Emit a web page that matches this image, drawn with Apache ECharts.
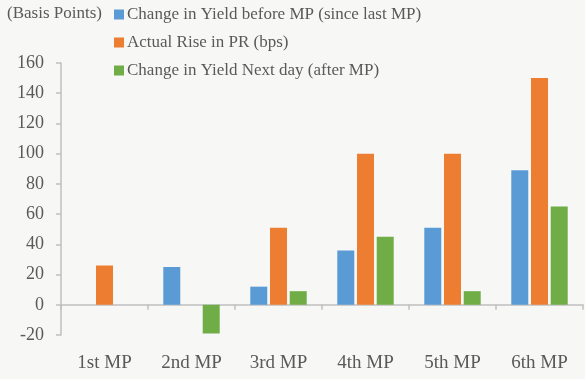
<!DOCTYPE html>
<html>
<head>
<meta charset="utf-8">
<script src="https://cdn.jsdelivr.net/npm/echarts@6/dist/echarts.min.js"></script>
<style>
html,body{margin:0;padding:0;background:#f7f8f6;}
#c{width:585px;height:379px;}
</style>
</head>
<body>
<div id="c"></div>
<script>
const categories = ['1st MP', '2nd MP', '3rd MP', '4th MP', '5th MP', '6th MP'];
const seriesNames = ['Change in Yield before MP (since last MP)', 'Actual Rise in PR (bps)', 'Change in Yield Next day (after MP)'];
const yieldBefore = [0, 25, 12, 36, 51, 89];
const prRise = [26, 0, 51, 100, 100, 150];
const yieldAfter = [0, -19, 9, 45, 9, 65];
const yTicks = { min: -20, max: 160, interval: 20 };
const unitLabel = '(Basis Points)';

const colors = ['#5b9bd5', '#ed7d31', '#70ad47'];
const font = '"Liberation Serif", "DejaVu Serif", serif';
const textColor = '#595959';
const axisColor = '#bfbfbf';

const chart = echarts.init(document.getElementById('c'), null, { renderer: 'canvas' });
function bar(name, data, i) {
  return {
    name: name, type: 'bar', data: data, xAxisIndex: 0,
    barWidth: 17, barGap: '16%',
    itemStyle: { color: colors[i] }
  };
}
chart.setOption({
  backgroundColor: '#f7f8f6',
  animation: false,
  color: colors,
  title: {
    text: unitLabel, left: 7, top: 5, padding: 0,
    textStyle: { fontFamily: font, fontSize: 17, fontWeight: 'normal', color: textColor }
  },
  legend: {
    orient: 'vertical', left: 114, top: 5, padding: 0,
    itemWidth: 10, itemHeight: 10, itemGap: 9,
    icon: 'rect',
    textStyle: { fontFamily: font, fontSize: 17, color: textColor, lineHeight: 19, padding: [0,0,0,-2] },
    data: seriesNames
  },
  grid: { left: 61, right: 2, top: 63, bottom: 44, containLabel: false },
  xAxis: [
    {
      type: 'category', data: categories, position: 'bottom',
      axisLine: { onZero: true, lineStyle: { color: axisColor, width: 1.5 } },
      axisTick: { show: true, length: 5, lineStyle: { color: axisColor, width: 1.5 } },
      axisLabel: { show: false }
    },
    {
      type: 'category', data: categories, position: 'bottom',
      axisLine: { show: false, onZero: false },
      axisTick: { show: false },
      axisLabel: { show: true, margin: 19, fontFamily: font, fontSize: 19, color: textColor }
    }
  ],
  yAxis: {
    type: 'value', min: yTicks.min, max: yTicks.max, interval: yTicks.interval,
    axisLine: { show: true, lineStyle: { color: axisColor, width: 1.5 } },
    axisTick: { show: true, length: 5, lineStyle: { color: axisColor, width: 1.5 } },
    splitLine: { show: false },
    axisLabel: { margin: 17, fontFamily: font, fontSize: 18, color: textColor }
  },
  series: [
    bar(seriesNames[0], yieldBefore, 0),
    bar(seriesNames[1], prRise, 1),
    bar(seriesNames[2], yieldAfter, 2)
  ]
});
</script>
</body>
</html>
